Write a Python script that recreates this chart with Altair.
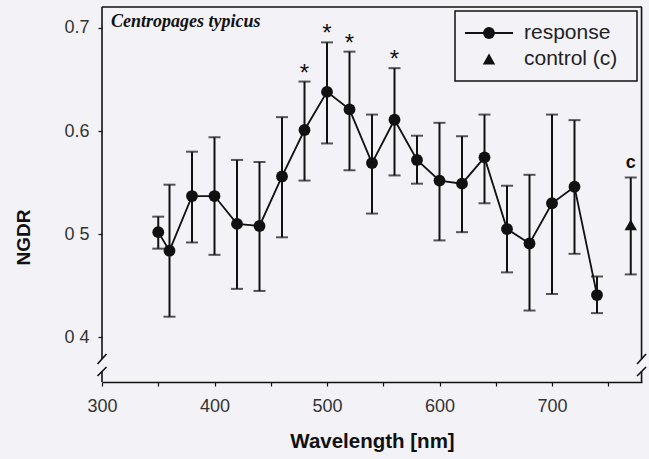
import altair as alt
import pandas as pd

# ---- data ----
wavelength = [350, 360, 380, 400, 420, 440, 460, 480, 500, 520, 540,
              560, 580, 600, 620, 640, 660, 680, 700, 720, 740]
ngdr = [0.502, 0.484, 0.537, 0.537, 0.510, 0.508, 0.556, 0.601, 0.638, 0.621, 0.569,
        0.611, 0.572, 0.552, 0.549, 0.5745, 0.505, 0.491, 0.530, 0.546, 0.441]
err_hi = [0.517, 0.548, 0.580, 0.594, 0.572, 0.570, 0.6135, 0.648, 0.686, 0.677, 0.616,
          0.661, 0.5955, 0.608, 0.595, 0.616, 0.547, 0.5576, 0.616, 0.6106, 0.459]
err_lo = [0.486, 0.420, 0.492, 0.480, 0.447, 0.445, 0.497, 0.552, 0.588, 0.562, 0.520,
          0.557, 0.549, 0.494, 0.502, 0.530, 0.463, 0.426, 0.442, 0.481, 0.4235]
significant = [480, 500, 520, 560]

control_x = [770]
control_y = [0.509]
control_hi = [0.555]
control_lo = [0.461]

x_ticks = [300, 350, 400, 450, 500, 550, 600, 650, 700, 750]
y_ticks = [0.4, 0.5, 0.6, 0.7]
y_tick_labels = {"0.4": "0 4", "0.5": "0 5", "0.6": "0.6", "0.7": "0.7"}

X_DOM = [300, 780]
Y_DOM = [0.3567, 0.7203]

# frame pieces with axis breaks (in data units)
seg_x1 = [300, 300, 300, 779.6, 779.6, 296, 296, 775.6, 775.6]
seg_x2 = [780, 300, 300, 779.6, 779.6, 304, 304, 783.6, 783.6]
seg_y1 = [0.7203, 0.7203, 0.3567, 0.7203, 0.3567, 0.3741, 0.3625, 0.3741, 0.3625]
seg_y2 = [0.7203, 0.3790, 0.3669, 0.3790, 0.3669, 0.3838, 0.3712, 0.3838, 0.3712]

INK = "#111111"
BG = "#f3f2f7"
FONT = "Liberation Sans"

df = pd.DataFrame({"wl": wavelength, "ngdr": ngdr, "hi": err_hi, "lo": err_lo})
ctrl = pd.DataFrame({"wl": control_x, "ngdr": control_y, "hi": control_hi, "lo": control_lo, "lab": ["c"]})
stars = df[df["wl"].isin(significant)].assign(s="*")
frame = pd.DataFrame({"xa": seg_x1, "xb": seg_x2, "ya": seg_y1, "yb": seg_y2})
one = pd.DataFrame({"a": [0]})

label_expr = " : ".join(
    [f"datum.label == '{k}' ? '{v}'" for k, v in y_tick_labels.items()]) + " : datum.label"

xs = alt.Scale(domain=X_DOM, nice=False, zero=False)
ys = alt.Scale(domain=Y_DOM, nice=False, zero=False)

x_axis = alt.Axis(values=x_ticks, labelExpr="datum.value % 100 == 0 ? datum.label : ''",
                  title="Wavelength [nm]", domain=True, domainColor=INK, domainWidth=1.5,
                  tickColor=INK, tickSize=4, tickWidth=1.2, grid=False,
                  labelFont=FONT, labelFontSize=18, labelColor="#333333", labelPadding=11,
                  labelOverlap=False, labelFlush=False,
                  titleFont=FONT, titleFontSize=20.5, titleFontWeight="bold", titleColor=INK,
                  titleY=59, titleBaseline="middle")
y_axis = alt.Axis(values=y_ticks, labelExpr=label_expr, format=".1f",
                  title="NGDR", domain=False, tickColor=INK, tickSize=4, tickWidth=1.2, grid=False,
                  labelFont=FONT, labelFontSize=18, labelColor="#333333", labelPadding=9,
                  titleFont=FONT, titleFontSize=19, titleFontWeight="bold", titleColor=INK,
                  titleX=-79, titleY=230, titleBaseline="middle", titleAngle=-90)

base = alt.Chart(df)

frame_l = alt.Chart(frame).mark_rule(color=INK, strokeWidth=1.6).encode(
    x=alt.X("xa:Q", scale=xs, axis=x_axis), x2="xb:Q",
    y=alt.Y("ya:Q", scale=ys, axis=y_axis), y2="yb:Q")

bars = base.mark_rule(color=INK, strokeWidth=2).encode(
    x=alt.X("wl:Q", scale=xs), y=alt.Y("lo:Q", scale=ys), y2="hi:Q")
caps_hi = base.mark_tick(color=INK, orient="horizontal", size=12, thickness=2).encode(
    x=alt.X("wl:Q", scale=xs), y=alt.Y("hi:Q", scale=ys))
caps_lo = base.mark_tick(color=INK, orient="horizontal", size=12, thickness=2).encode(
    x=alt.X("wl:Q", scale=xs), y=alt.Y("lo:Q", scale=ys))
line = base.mark_line(color=INK, strokeWidth=1.8).encode(
    x=alt.X("wl:Q", scale=xs), y=alt.Y("ngdr:Q", scale=ys))
pts = base.mark_point(shape="circle", filled=True, color=INK, opacity=1, size=140).encode(
    x=alt.X("wl:Q", scale=xs), y=alt.Y("ngdr:Q", scale=ys))

cb = alt.Chart(ctrl)
c_bar = cb.mark_rule(color=INK, strokeWidth=2).encode(
    x=alt.X("wl:Q", scale=xs), y=alt.Y("lo:Q", scale=ys), y2="hi:Q")
c_hi = cb.mark_tick(color=INK, orient="horizontal", size=12, thickness=2).encode(
    x=alt.X("wl:Q", scale=xs), y=alt.Y("hi:Q", scale=ys))
c_lo = cb.mark_tick(color=INK, orient="horizontal", size=12, thickness=2).encode(
    x=alt.X("wl:Q", scale=xs), y=alt.Y("lo:Q", scale=ys))
c_pt = cb.mark_point(shape="triangle-up", filled=True, color=INK, opacity=1, size=155).encode(
    x=alt.X("wl:Q", scale=xs), y=alt.Y("ngdr:Q", scale=ys))
c_lab = cb.mark_text(font=FONT, fontSize=18, fontWeight="bold", color=INK, dy=-9,
                     baseline="alphabetic", align="center").encode(
    x=alt.X("wl:Q", scale=xs), y=alt.Y("hi:Q", scale=ys), text="lab:N")

star_l = alt.Chart(stars).mark_text(font=FONT, fontSize=24, color=INK, dy=-1,
                                    baseline="alphabetic", align="center").encode(
    x=alt.X("wl:Q", scale=xs), y=alt.Y("hi:Q", scale=ys), text="s:N")

oc = alt.Chart(one)
title_t = oc.mark_text(text="Centropages typicus", font="Liberation Serif", fontSize=18,
                       fontStyle="italic", fontWeight="bold", color=INK,
                       align="left", baseline="alphabetic").encode(
    x=alt.value(9), y=alt.value(20))

leg_box = oc.mark_rect(fill=BG, stroke=INK, strokeWidth=1.5).encode(
    x=alt.value(353), x2=alt.value(535), y=alt.value(4), y2=alt.value(74))
leg_line = oc.mark_rule(color=INK, strokeWidth=1.8).encode(
    x=alt.value(363), x2=alt.value(411), y=alt.value(26))
leg_dot = oc.mark_point(shape="circle", filled=True, color=INK, opacity=1, size=140).encode(
    x=alt.value(387), y=alt.value(26))
leg_tri = oc.mark_point(shape="triangle-up", filled=True, color=INK, opacity=1, size=155).encode(
    x=alt.value(387), y=alt.value(52))
leg_t1 = oc.mark_text(text="response", font=FONT, fontSize=21, color="#222222",
                      align="left", baseline="middle").encode(x=alt.value(422), y=alt.value(26))
leg_t2 = oc.mark_text(text="control (c)", font=FONT, fontSize=21, color="#222222",
                      align="left", baseline="middle").encode(x=alt.value(422), y=alt.value(52))

chart = alt.layer(
    frame_l, bars, caps_hi, caps_lo, line, pts,
    c_bar, c_hi, c_lo, c_pt, c_lab, star_l, title_t,
    leg_box, leg_line, leg_dot, leg_tri, leg_t1, leg_t2
).properties(
    width=540, height=375,
    autosize=alt.AutoSizeParams(type="none"),
    padding={"left": 102, "top": 7, "right": 7, "bottom": 77},
    background=BG,
).configure_view(stroke=None)

chart.save("out.html", embed_options={"renderer": "svg", "actions": False})
